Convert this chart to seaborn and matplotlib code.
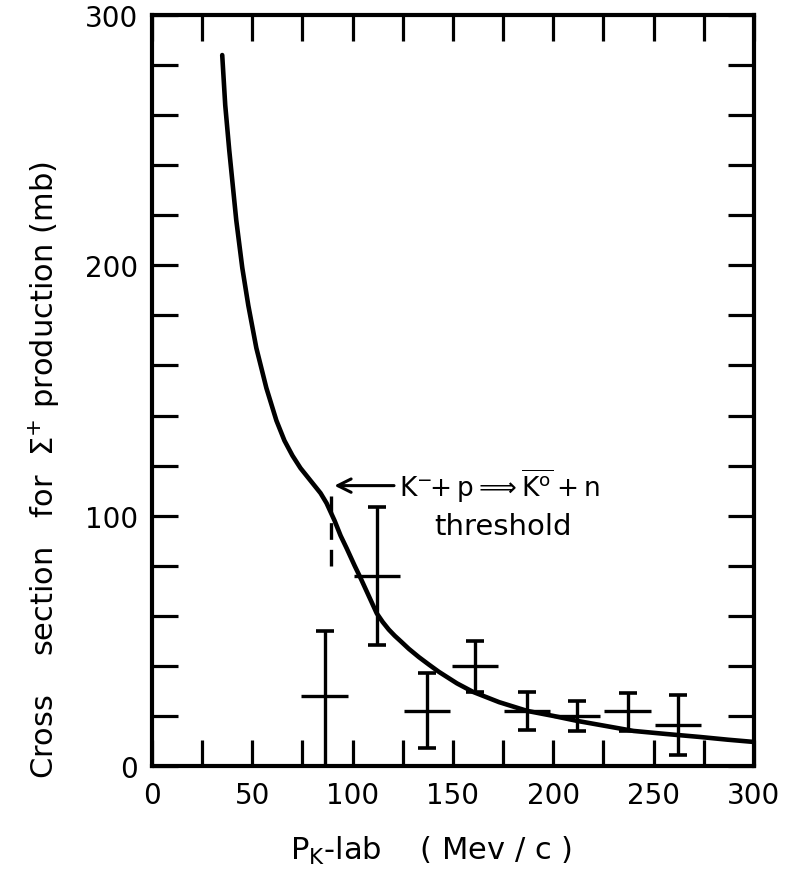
import matplotlib
matplotlib.use("Agg")
import matplotlib.pyplot as plt
from matplotlib.ticker import MultipleLocator
import seaborn as sns
import pandas as pd

# Calculated cross section curve (mb) vs kaon lab momentum (MeV/c)
curve_p = [35, 36.5, 38.5, 40, 42, 45, 48, 52, 57, 62, 66, 70, 74, 77, 80,
           84, 87, 89, 91, 94, 97, 101, 104, 108, 112, 115, 118, 121, 124,
           128, 133, 138, 143, 152, 160, 173, 187, 200, 212, 226, 240, 256,
           273, 287, 300]
curve_sigma = [284, 264, 246, 234, 218, 199, 184, 167, 151, 138, 130, 124,
               119, 116, 113, 109, 105, 101.5, 98, 92, 87, 80, 75, 68, 61,
               57.5, 54.5, 52, 49.8, 46.8, 43.5, 40.5, 37.6, 33, 29.6, 25.5,
               22, 20, 18, 16, 14, 12.8, 11.6, 10.5, 9.6]

# Measured points with momentum bins and statistical errors
meas_p = [86, 112, 137, 161, 187, 212, 237, 262]
meas_sigma = [28, 76, 22, 40, 22, 20, 22, 16.5]
meas_err_lo = [30, 27.5, 15, 10.5, 7.5, 6, 8, 12]
meas_err_hi = [26, 27.5, 15, 10, 7.5, 6, 7, 12]
bin_half = [11.5, 11.5, 11.5, 11.5, 11.5, 11.5, 11.5, 11.5]

threshold_p = 89
threshold_range = [80, 112]

x_ticks_major = [0, 50, 100, 150, 200, 250, 300]
y_ticks_major = [0, 100, 200, 300]

sns.set_theme(style="ticks")
plt.rcParams["font.family"] = ["DejaVu Sans"]
plt.rcParams["mathtext.fontset"] = "dejavusans"
for key in ["text.color", "axes.labelcolor", "xtick.color", "ytick.color"]:
    plt.rcParams[key] = "black"

fig = plt.figure(figsize=(7.97, 8.70), dpi=100)
ax = fig.add_axes([0.1907, 0.1184, 0.946 - 0.1907, 0.9816 - 0.1184])

curve = pd.DataFrame({"p": curve_p, "sigma": curve_sigma})
sns.lineplot(data=curve, x="p", y="sigma", ax=ax, color="black", lw=3.3,
             sort=True, estimator=None)

# vertical errors with end caps, momentum bins as plain bars
ax.errorbar(meas_p, meas_sigma, yerr=[meas_err_lo, meas_err_hi],
            fmt="none", ecolor="black", elinewidth=2.4, capsize=6.5,
            capthick=2.6)
ax.errorbar(meas_p, meas_sigma, xerr=bin_half,
            fmt="none", ecolor="black", elinewidth=2.4, capsize=0)

# threshold marker
ax.plot([threshold_p, threshold_p], threshold_range, color="black", lw=2.4,
        ls=(0, (5, 3)))
ax.annotate("", xy=(threshold_p + 0.5, threshold_range[1]),
            xytext=(threshold_p + 33, threshold_range[1]),
            arrowprops=dict(arrowstyle="->", lw=2.2, color="black",
                            mutation_scale=24))
ax.text(threshold_p + 34, threshold_range[1],
        r"$\mathregular{K^{-}\!\!+p \Longrightarrow \overline{K^{o}}+n}$",
        fontsize=19, va="center", ha="left")
ax.text(threshold_p + 86, threshold_range[1] - 16, "threshold",
        fontsize=21, va="center", ha="center")

ax.set_xlim(0, 300)
ax.set_ylim(0, 300)
ax.xaxis.set_minor_locator(MultipleLocator(25))
ax.yaxis.set_minor_locator(MultipleLocator(20))
ax.set_xticks(x_ticks_major)
ax.set_yticks(y_ticks_major)
ax.tick_params(which="both", direction="in", top=True, right=True,
               length=19, width=2.3, color="black")
ax.tick_params(axis="x", which="major", labelsize=20, pad=11)
ax.tick_params(axis="y", which="major", labelsize=20, pad=10)
for s in ax.spines.values():
    s.set_linewidth(3)
    s.set_color("black")

ax.set_xlabel(r"$\mathregular{P_{K}}$-lab    ( Mev / c )", fontsize=22)
ax.set_ylabel(r"Cross    section   for  $\mathregular{\Sigma^{+}}$ production (mb)",
              fontsize=22)
ax.xaxis.set_label_coords(0.463, -0.09)
ax.yaxis.set_label_coords(-0.15, 0.395)

fig.savefig("out.png", dpi=100, facecolor="white")
